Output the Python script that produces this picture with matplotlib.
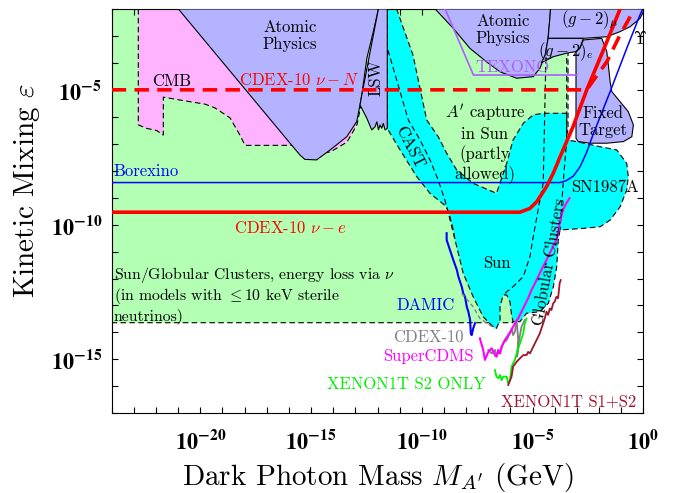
import numpy as np
import matplotlib.pyplot as plt
from matplotlib.ticker import FixedLocator, FuncFormatter, NullLocator

plt.rcParams['font.family'] = ['cmr10']
plt.rcParams['mathtext.fontset'] = 'stix'   # bold tick labels; other math uses cm
plt.rcParams['axes.formatter.use_mathtext'] = True
plt.rcParams['axes.unicode_minus'] = False

# all values are log10(mass / GeV) and log10(epsilon)
green_m = [-24, -3.4, -3.4, -5.9, -24]
green_e = [-2, -2, -6.5, -13.64, -13.64]

cmb_m = [-22.80, -22.80, -22.42, -21.97, -21.67, -21.67, -20.69, -19.79, -19.34, -18.66, -18.21,
         -17.98, -15.50, -14.77, -14.14, -13.38, -12.93, -12.70, -12.70]
cmb_e = [-2, -6.30, -6.43, -6.51, -6.68, -5.27, -5.41, -5.53, -5.67, -6.04, -6.68,
         -7.06, -7.06, -7.34, -7.31, -6.94, -6.30, -5.38, -2]

atomic1_m = [-20.99, -15.95, -15.50, -15.28, -14.75, -14.14, -13.39, -12.94, -12.79, -12.71, -12.48, -12.19, -11.96]
atomic1_e = [-2, -6.98, -7.42, -7.58, -7.60, -7.23, -6.74, -6.18, -5.56, -5.19, -3.82, -2.84, -2]

lsw_m = [-11.96, -12.71, -12.79, -12.48, -12.26, -12.11, -12.03, -11.96, -11.89, -11.81, -11.74, -11.66, -11.56, -11.56]
lsw_e = [-2, -5.19, -5.56, -6.06, -6.49, -6.37, -6.18, -6.49, -6.30, -6.43, -6.24, -6.49, -6.43, -2]

cyan_m = [-11.56, -11.14, -10.40, -9.78, -9.26, -8.88, -8.43, -7.68, -6.63, -6.17, -5.88, -5.42, -4.97,
          -4.51, -3.46, -3.46, -3.01, -1.95, -1.20, -0.75, -0.68, -0.75, -1.05, -1.50, -1.95, -2.71,
          -3.76, -3.84, -3.91, -4.06, -4.29, -4.67, -5.27, -5.57, -5.88, -5.95, -6.02, -6.17, -6.33,
          -6.47, -6.47, -6.63, -6.70, -7.23, -7.68, -8.13, -8.50, -8.58, -8.73, -8.88, -9.63, -10.23,
          -10.98, -11.52, -11.56]
cyan_e = [-2, -2, -3.71, -6.12, -6.74, -7.35, -7.97, -8.47, -8.84, -7.73, -6.86, -6.24, -5.93,
          -5.87, -5.87, -6.86, -6.92, -7.11, -7.23, -7.73, -8.22, -8.72, -9.34, -9.83, -10.08, -10.14,
          -10.20, -10.57, -11.56, -12.30, -12.92, -13.23, -13.29, -13.60, -13.60, -13.35, -12.86, -12.61, -12.61,
          -13.05, -13.54, -13.85, -13.85, -13.42, -12.68, -11.81, -10.57, -10.20, -9.71, -9.34, -8.84, -8.22,
          -7.23, -6.49, -6.43]

cast_m = [-11.53, -11.07, -10.61, -10.08, -9.63, -9.26, -8.96, -8.80, -8.65, -8.50]
cast_e = [-3.52, -4.82, -6.12, -6.86, -7.60, -8.35, -9.09, -9.58, -10.08, -10.57]

gc_left_m = [-4.40, -4.52, -4.67, -4.97, -5.12, -5.42, -5.88, -6.25]
gc_left_e = [-3.82, -8.46, -9.09, -10.45, -11.19, -11.93, -12.30, -12.55]
gc_right_m = [-3.46, -3.46, -3.61, -3.76]
gc_right_e = [-3.82, -6.86, -8.35, -10.20]

atomic2_m = [-9.40, -8.58, -7.83, -7.08, -6.47, -5.72, -4.97, -4.67, -4.43, -4.30, -4.22, -4.19]
atomic2_e = [-2, -2.72, -3.46, -3.96, -4.33, -4.57, -4.51, -4.20, -3.71, -3.09, -2.35, -2]

gmu_m = [-4.19, 0, 0, -0.15, -0.60, -1.05, -1.65, -2.71, -4.30, -4.22]
gmu_e = [-2, -2, -2.11, -2.35, -2.66, -2.84, -3.03, -3.09, -3.09, -2.35]

ge_m = [-4.30, -2.71, -2.86, -3.04, -3.46, -4.06, -4.61, -4.43]
ge_e = [-3.09, -3.09, -3.46, -3.58, -3.64, -3.77, -4.00, -3.71]

fixed_m = [-3.04, -2.86, -2.71, -1.88, -1.65, -1.58, -1.50, -1.42, -1.05, -0.68, -0.45, -0.52,
           -0.90, -1.65, -2.41, -2.94, -3.04]
fixed_e = [-3.58, -3.46, -3.15, -3.09, -3.58, -4.08, -4.70, -5.07, -5.44, -5.81, -6.30, -6.74,
           -6.92, -6.98, -6.98, -6.92, -6.80]

texono_m = [-8.95, -7.67, -3.01]
texono_e = [-2, -4.45, -4.45]

nuN_m = [-24, -2.56, -1.65, -1.05, -0.47]
nuN_e = [-5, -5, -3.96, -2.96, -2.10]

nue_m = [-24, -5.57, -5.12, -4.81, -4.37, -4.07, -3.76, -3.16, -2.56, -1.65, -1.05]
nue_e = [-9.54, -9.54, -9.40, -9.15, -8.59, -8.10, -7.49, -6.34, -5.01, -3.22, -2.0]

borex_m = [-24, -3.76, -3.46, -3.16, -2.86, -2.56, -2.26, -1.95, -1.50, -0.75, -0.15, 0]
borex_e = [-8.44, -8.44, -8.36, -8.20, -7.86, -7.32, -6.64, -6.00, -5.07, -3.46, -2.22, -1.96]

damic_m = [-8.88, -8.88, -8.73, -8.58, -8.42, -8.35, -8.20, -8.13, -8.05, -7.97, -7.90, -7.82, -7.79, -7.75, -7.68, -7.60]
damic_e = [-10.32, -10.57, -10.94, -11.31, -11.68, -11.93, -12.30, -12.55, -12.68, -13.05, -13.23, -13.54, -14.03, -14.10, -13.85, -13.66]

cdex_dash_m = [-8.20, -7.68, -7.38, -6.93, -6.70]
cdex_dash_e = [-12.55, -13.05, -13.48, -13.73, -13.85]
cdex_m = [-7.00, -6.85, -6.70, -6.63, -6.47, -6.32, -6.17, -6.02, -5.95, -5.88, -5.80, -5.72, -5.65, -5.70, -5.61, -5.50, -5.35]
cdex_e = [-14.65, -14.78, -14.65, -14.84, -14.72, -14.40, -14.28, -14.03, -13.85, -14.10, -13.97, -13.54, -14.28, -14.90, -14.28, -13.79, -13.54]

scdms_m = [-7.38, -7.23, -7.15, -7.00, -6.85, -6.70, -6.63, -6.55, -6.47, -6.40, -6.25, -6.10, -5.95, -5.80,
           -5.65, -5.50, -5.35, -5.20, -5.05, -4.82, -4.60, -4.37, -4.15, -3.93, -3.85, -3.78, -3.63, -3.48, -3.33]
scdms_e = [-14.22, -14.65, -15.02, -14.72, -14.59, -14.84, -14.90, -14.65, -14.78, -14.53, -14.28, -14.10, -13.91, -13.66,
           -13.48, -13.23, -12.98, -12.73, -12.43, -12.06, -11.68, -11.31, -10.94, -10.57, -10.32, -9.95, -9.46, -9.21, -9.02]

xs2_m = [-6.70, -6.63, -6.55, -6.47, -6.40, -6.32, -6.17, -6.10, -6.02, -5.95, -5.88, -5.80, -5.72, -5.57, -5.42, -5.35, -5.27]
xs2_e = [-15.40, -15.64, -15.70, -15.58, -15.77, -15.64, -15.64, -15.89, -15.77, -15.27, -15.15, -15.02, -14.78, -14.40, -14.03, -13.66, -13.48]

xs12_m = [-6.10, -5.95, -5.88, -5.72, -5.57, -5.42, -5.27, -5.20, -5.12, -4.97, -4.82, -4.67, -4.60, -4.52,
          -4.45, -4.37, -4.30, -4.22, -4.15, -4.07, -4.00, -3.93, -3.85, -3.81, -3.78, -3.73]
xs12_e = [-15.95, -15.64, -15.27, -15.09, -14.96, -14.84, -14.84, -14.72, -14.78, -14.53, -14.28, -14.03, -13.85, -13.66,
          -13.48, -13.23, -13.35, -13.11, -13.17, -12.92, -12.86, -12.68, -12.73, -12.43, -12.18, -12.06]


def p(a):
    return 10.0 ** np.array(a)


fig = plt.figure(figsize=(6.75, 4.93), dpi=100)
ax = fig.add_axes([0.1655, 0.1617, 0.7876, 0.8201])
ax.set_xscale('log')
ax.set_yscale('log')
ax.set_xlim(1e-24, 1)
ax.set_ylim(1e-17, 1e-2)

dash = (0, (5, 3))
ax.fill(p(green_m), p(green_e), facecolor='#b3ffb3', edgecolor='k', lw=0.8, ls=dash, zorder=1)
ax.fill(p(cmb_m), p(cmb_e), facecolor='#ffb3ff', edgecolor='k', lw=0.8, ls=dash, zorder=2)
ax.fill(p(cyan_m), p(cyan_e), facecolor='#00ffff', edgecolor='k', lw=0.8, ls=dash, zorder=2)
for mm, ee in [(atomic1_m, atomic1_e), (lsw_m, lsw_e), (atomic2_m, atomic2_e),
               (gmu_m, gmu_e), (ge_m, ge_e), (fixed_m, fixed_e)]:
    ax.fill(p(mm), p(ee), facecolor='#b3b3ff', edgecolor='k', lw=0.8, zorder=3)

for mm, ee in [(cast_m, cast_e), (gc_left_m, gc_left_e), (gc_right_m, gc_right_e)]:
    ax.plot(p(mm), p(ee), color='k', lw=0.8, ls=dash, zorder=4)

ax.plot(p(texono_m), p(texono_e), color='#b05cff', lw=1.2, zorder=5)
ax.plot(p(nuN_m), p(nuN_e), color='red', lw=2.6, ls=(0, (4, 2.3)), zorder=6)
ax.plot(p(nue_m), p(nue_e), color='red', lw=2.6, zorder=6)
ax.plot(p(borex_m), p(borex_e), color='blue', lw=1.1, zorder=5)
ax.plot(p(damic_m), p(damic_e), color='blue', lw=1.5, zorder=5)
ax.plot(p(cdex_dash_m), p(cdex_dash_e), color='gray', lw=1.0, ls=(0, (3, 2)), zorder=5)
ax.plot(p(cdex_m), p(cdex_e), color='gray', lw=1.3, zorder=5)
ax.plot(p(scdms_m), p(scdms_e), color='magenta', lw=1.5, zorder=6)
ax.plot(p(xs2_m), p(xs2_e), color='#00ee00', lw=1.3, zorder=5)
ax.plot(p(xs12_m), p(xs12_e), color='#a0142d', lw=1.3, zorder=5)


def lab(m, e, s, **kw):
    kw.setdefault('ha', 'center')
    kw.setdefault('va', 'center')
    kw.setdefault('fontsize', 12)
    ax.text(10.0 ** m, 10.0 ** e, s, zorder=10, math_fontfamily='cm', **kw)


lab(-15.94, -3.0, 'Atomic\nPhysics', linespacing=1.15)
lab(-6.35, -2.78, 'Atomic\nPhysics', linespacing=1.15)
lab(-21.28, -4.67, 'CMB')
lab(-15.56, -4.62, r'CDEX-10 $\nu-N$', color='red')
lab(-12.07, -4.56, 'LSW', rotation=90)
lab(-10.53, -7.12, 'CAST', rotation=-63)
lab(-7.15, -6.97, "$A'$ capture\nin Sun\n(partly\nallowed)", linespacing=1.2)
lab(-1.83, -6.19, 'Fixed\nTarget', linespacing=1.1)
lab(-1.74, -8.60, 'SN1987A')
lab(-23.9, -8.01, 'Borexino', color='blue', ha='left')
lab(-15.95, -10.13, r'CDEX-10 $\nu-e$', color='red')
lab(-6.6, -11.42, 'Sun')
lab(-4.21, -11.39, 'Globular Clusters', rotation=80)
lab(-23.9, -11.87, r'Sun/Globular Clusters, energy loss via $\nu$', ha='left', fontsize=11.3)
lab(-23.9, -12.65, r'(in models with $\leq$10 keV sterile', ha='left', fontsize=11.3)
lab(-23.9, -13.39, 'neutrinos)', ha='left', fontsize=11.3)
lab(-9.81, -12.98, 'DAMIC', color='blue')
lab(-9.72, -14.17, 'CDEX-10', color='gray')
lab(-9.72, -14.88, 'SuperCDMS', color='magenta')
lab(-10.71, -15.91, 'XENON1T S2 ONLY', color='#00ee00')
lab(-3.37, -16.58, 'XENON1T S1+S2', color='#a0142d')
lab(-5.89, -4.15, 'TEXONO', color='#b05cff')
lab(-2.42, -2.41, r'$(g-2)_\mu$')
lab(-3.50, -3.60, r'$(g-2)_e$')
lab(-0.15, -3.08, r'$\Upsilon$')


def fmt(v, pos):
    k = int(round(np.log10(v)))
    if k % 5 == 0:
        return r'$\mathbf{10^{%d}}$' % k
    return ''


ax.xaxis.set_major_locator(FixedLocator(10.0 ** np.arange(-24, 1)))
ax.yaxis.set_major_locator(FixedLocator(10.0 ** np.arange(-17, -1)))
ax.xaxis.set_minor_locator(NullLocator())
ax.yaxis.set_minor_locator(NullLocator())
ax.xaxis.set_major_formatter(FuncFormatter(fmt))
ax.yaxis.set_major_formatter(FuncFormatter(fmt))
ax.tick_params(which='both', direction='in', top=True, right=True, length=4, width=0.8, labelsize=16)
ax.tick_params(axis='x', pad=11)
ax.tick_params(axis='y', pad=7)

ax.set_xlabel(r"Dark Photon Mass $M_{A'}$ (GeV)", fontsize=21, labelpad=6, math_fontfamily='cm')
ax.set_ylabel(r'Kinetic Mixing $\varepsilon$', fontsize=21, math_fontfamily='cm')
ax.yaxis.set_label_coords(-0.131, 0.552)

fig.savefig('out.png', dpi=100)
